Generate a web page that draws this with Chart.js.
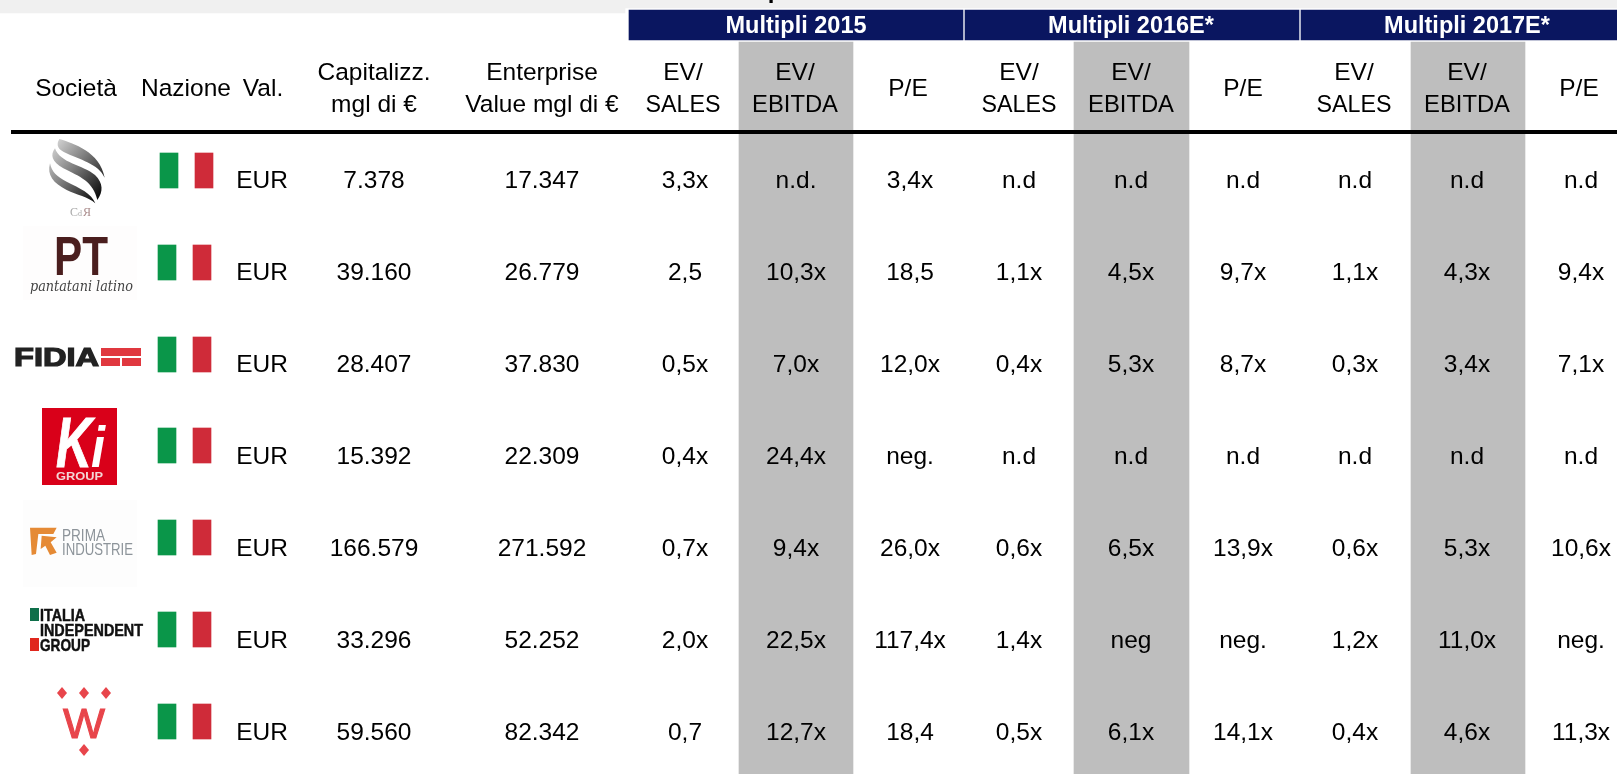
<!DOCTYPE html>
<html>
<head>
<meta charset="utf-8">
<title>Multipli</title>
<script src="https://cdn.jsdelivr.net/npm/chart.js@4/dist/chart.umd.min.js"></script>
<style>
  html, body { margin: 0; padding: 0; background: #fff; overflow: hidden; }
  canvas { display: block; }
</style>
</head>
<body>
<canvas id="table-chart" width="1617" height="774"></canvas>
<script>
// table content
const societa = ['Cd R', 'Pantaloni Torino', 'Fidia', 'Ki Group', 'Prima Industrie', 'Italia Independent Group', 'W'];
const valuta = ['EUR', 'EUR', 'EUR', 'EUR', 'EUR', 'EUR', 'EUR'];
const capitalizz = ['7.378', '39.160', '28.407', '15.392', '166.579', '33.296', '59.560'];
const enterprise = ['17.347', '26.779', '37.830', '22.309', '271.592', '52.252', '82.342'];
const evSales15 = ['3,3x', '2,5', '0,5x', '0,4x', '0,7x', '2,0x', '0,7'];
const evEbitda15 = ['n.d.', '10,3x', '7,0x', '24,4x', '9,4x', '22,5x', '12,7x'];
const pe15 = ['3,4x', '18,5', '12,0x', 'neg.', '26,0x', '117,4x', '18,4'];
const evSales16 = ['n.d', '1,1x', '0,4x', 'n.d', '0,6x', '1,4x', '0,5x'];
const evEbitda16 = ['n.d', '4,5x', '5,3x', 'n.d', '6,5x', 'neg', '6,1x'];
const pe16 = ['n.d', '9,7x', '8,7x', 'n.d', '13,9x', 'neg.', '14,1x'];
const evSales17 = ['n.d', '1,1x', '0,3x', 'n.d', '0,6x', '1,2x', '0,4x'];
const evEbitda17 = ['n.d', '4,3x', '3,4x', 'n.d', '5,3x', '11,0x', '4,6x'];
const pe17 = ['n.d', '9,4x', '7,1x', 'n.d', '10,6x', 'neg.', '11,3x'];
const groupLabels = ['Multipli 2015', 'Multipli 2016E*', 'Multipli 2017E*'];
const headerLabels = [
  ['Società'], ['Nazione'], ['Val.'], ['Capitalizz.', 'mgl di €'], ['Enterprise', 'Value mgl di €'],
  ['EV/', 'SALES'], ['EV/', 'EBITDA'], ['P/E'],
  ['EV/', 'SALES'], ['EV/', 'EBITDA'], ['P/E'],
  ['EV/', 'SALES'], ['EV/', 'EBITDA'], ['P/E']
];

// layout, in scale units (the scales run over the page size)
const bodyColumns = [valuta, capitalizz, enterprise, evSales15, evEbitda15, pe15, evSales16, evEbitda16, pe16, evSales17, evEbitda17, pe17];
const bodyX = [262, 374, 542, 685, 796, 910, 1019, 1131, 1243, 1355, 1467, 1581];
const headerX = [76, 186, 263, 374, 542, 683, 795, 908, 1019, 1131, 1243, 1354, 1467, 1579];
const rowY = [181, 273, 365, 457, 549, 641, 733];
const flagTop = [153, 245, 337, 428, 520, 612, 704];
const flagShift = [2, 0, 0, 0, 0, 0, 0];
const groupSpans = [[629, 963], [965, 1299], [1301, 1617]];
const groupX = [796, 1131, 1467];
const shadedSpans = [[739, 853], [1074, 1189], [1411, 1525]];

const FONT = '"Liberation Sans", Arial, sans-serif';

function block(from, to, top, bottom, color, order) {
  return {
    type: 'bar',
    data: [{ x: (from + to) / 2, y: [top, bottom] }],
    backgroundColor: color,
    barThickness: to - from,
    grouped: false,
    borderWidth: 0,
    order: order
  };
}

const datasets = [
  block(0, 625, 0, 13, '#f0f0f0', 5),
  block(625, 1617, 0, 8, '#f0f0f0', 5)
];
groupSpans.forEach(s => datasets.push(block(s[0], s[1], 10, 40, '#0a1660', 4)));
shadedSpans.forEach(s => datasets.push(block(s[0], s[1], 42, 774, '#bebebe', 3)));
flagTop.forEach((top, i) => {
  datasets.push(block(158 + flagShift[i], 176 + flagShift[i], top, top + 35, '#0a9649', 2));
  datasets.push(block(193 + flagShift[i], 211 + flagShift[i], top, top + 35, '#cf2b39', 2));
});
// thick rule under the header
datasets.push({
  type: 'line',
  data: [{ x: 11, y: 132 }, { x: 1617, y: 132 }],
  borderColor: '#000',
  borderWidth: 4,
  pointRadius: 0,
  order: 1
});

// draws text squeezed or stretched to a given width, stroke thickens it
function fitText(ctx, text, left, baseline, width, font, color, stroke) {
  ctx.save();
  ctx.font = font;
  ctx.fillStyle = color;
  ctx.strokeStyle = color;
  ctx.textAlign = 'left';
  ctx.textBaseline = 'alphabetic';
  let w = ctx.measureText(text).width;
  ctx.translate(left, baseline);
  ctx.scale(width / w, 1);
  ctx.fillText(text, 0, 0);
  if (stroke) {
    ctx.lineWidth = stroke;
    ctx.strokeText(text, 0, 0);
  }
  ctx.restore();
}

function rect(ctx, x0, y0, x1, y1, color) {
  ctx.fillStyle = color;
  ctx.fillRect(x0, y0, x1 - x0, y1 - y0);
}

function diamond(ctx, cx, cy) {
  ctx.beginPath();
  ctx.moveTo(cx, cy - 6);
  ctx.lineTo(cx + 5, cy);
  ctx.lineTo(cx, cy + 6);
  ctx.lineTo(cx - 5, cy);
  ctx.closePath();
  ctx.fill();
}

// company logos, rough redraws
function drawLogos(ctx) {
  // swirl
  ctx.save();
  ctx.translate(20, 135);
  ctx.scale(1 / 3, 1 / 3);
  let g = ctx.createLinearGradient(90, 30, 250, 170);
  g.addColorStop(0, '#d8d8d8');
  g.addColorStop(0.45, '#808080');
  g.addColorStop(1, '#0c0c0c');
  ctx.fillStyle = g;
  ctx.beginPath();
  ctx.moveTo(118, 12);
  ctx.bezierCurveTo(160, 25, 240, 50, 254, 128);
  ctx.bezierCurveTo(235, 85, 180, 75, 130, 50);
  ctx.bezierCurveTo(110, 40, 110, 25, 118, 12);
  ctx.fill();
  ctx.beginPath();
  ctx.moveTo(105, 40);
  ctx.bezierCurveTo(90, 60, 95, 80, 130, 100);
  ctx.bezierCurveTo(180, 125, 220, 140, 232, 195);
  ctx.bezierCurveTo(250, 170, 250, 145, 225, 120);
  ctx.bezierCurveTo(190, 90, 120, 85, 105, 40);
  ctx.fill();
  ctx.beginPath();
  ctx.moveTo(90, 85);
  ctx.bezierCurveTo(80, 120, 100, 145, 140, 165);
  ctx.bezierCurveTo(170, 180, 205, 185, 226, 205);
  ctx.bezierCurveTo(215, 175, 180, 160, 140, 140);
  ctx.bezierCurveTo(110, 125, 95, 110, 90, 85);
  ctx.fill();
  ctx.restore();
  fitText(ctx, 'C', 70, 216, 8, '13px "Liberation Serif"', '#a9a9a9');
  fitText(ctx, 'd', 78, 216, 4, '9px "Liberation Serif"', '#a9a9a9');
  fitText(ctx, 'Я', 83, 216, 8, '13px "Liberation Serif"', '#a98a8a');

  // PT
  rect(ctx, 23, 226, 137, 300, '#fefdfd');
  fitText(ctx, 'PT', 54, 275, 54, 'bold 55px ' + FONT, '#4a1e1e');
  fitText(ctx, 'pantatani latino', 30, 291, 103, 'italic 14px "DejaVu Serif"', '#444');

  // FIDIA
  fitText(ctx, 'FIDIA', 14, 366, 85, '900 25px ' + FONT, '#222', 1.2);
  rect(ctx, 101, 348, 141, 356, '#e0383f');
  rect(ctx, 101, 358, 120, 366, '#e0383f');
  rect(ctx, 122, 358, 141, 366, '#e0383f');

  // Ki
  rect(ctx, 42, 408, 117, 485, '#d90019');
  fitText(ctx, 'K', 56, 467, 36, 'italic bold 70px ' + FONT, '#fff', 1);
  fitText(ctx, 'i', 91, 467, 14, 'italic bold 58px ' + FONT, '#fff');
  fitText(ctx, 'GROUP', 56, 480, 47, 'bold 11px ' + FONT, '#f3d6d6');

  // Prima Industrie
  rect(ctx, 23, 500, 137, 587, '#fdfdfd');
  ctx.save();
  ctx.translate(0, 300);
  ctx.scale(1 / 3, 1 / 3);
  ctx.fillStyle = '#e58a35';
  ctx.beginPath();
  ctx.moveTo(90, 683);
  ctx.lineTo(170, 683);
  ctx.lineTo(160, 702);
  ctx.lineTo(115, 702);
  ctx.lineTo(108, 762);
  ctx.lineTo(95, 765);
  ctx.closePath();
  ctx.fill();
  ctx.beginPath();
  ctx.moveTo(125, 707);
  ctx.lineTo(170, 712);
  ctx.lineTo(152, 727);
  ctx.lineTo(170, 758);
  ctx.lineTo(150, 765);
  ctx.lineTo(136, 737);
  ctx.lineTo(122, 747);
  ctx.closePath();
  ctx.fill();
  ctx.restore();
  fitText(ctx, 'PRIMA', 62, 541, 43, '17px ' + FONT, '#8d949a');
  fitText(ctx, 'INDUSTRIE', 62, 555, 71, '17px ' + FONT, '#8d949a');

  // Italia Independent
  rect(ctx, 30, 608, 39, 621, '#0f6f4a');
  rect(ctx, 30, 638, 39, 651, '#e0271d');
  fitText(ctx, 'ITALIA', 40, 621, 45, 'bold 17px ' + FONT, '#111', 0.5);
  fitText(ctx, 'INDEPENDENT', 40, 636, 103, 'bold 17px ' + FONT, '#111', 0.5);
  fitText(ctx, 'GROUP', 40, 651, 50, 'bold 17px ' + FONT, '#111', 0.5);

  // W
  ctx.fillStyle = '#e8454b';
  diamond(ctx, 62, 693);
  diamond(ctx, 84, 693);
  diamond(ctx, 106, 693);
  diamond(ctx, 84, 750);
  fitText(ctx, 'W', 63, 738, 42, '42px ' + FONT, '#e8454b', 1);
}

const tableText = {
  id: 'tableText',
  afterDatasetsDraw(chart) {
    const ctx = chart.ctx;
    const x = chart.scales.x;
    const y = chart.scales.y;
    ctx.save();
    ctx.textAlign = 'center';
    ctx.textBaseline = 'middle';

    // cut-off title at the top edge
    ctx.fillStyle = '#000';
    ctx.font = 'bold 24px ' + FONT;
    ctx.textBaseline = 'alphabetic';
    ctx.fillText('p', x.getPixelForValue(775), y.getPixelForValue(-2));
    ctx.textBaseline = 'middle';

    ctx.fillStyle = '#fff';
    ctx.font = 'bold 23.5px ' + FONT;
    groupLabels.forEach((label, i) => {
      ctx.fillText(label, x.getPixelForValue(groupX[i]), y.getPixelForValue(27));
    });

    ctx.fillStyle = '#000';
    ctx.font = '24.5px ' + FONT;
    headerLabels.forEach((lines, i) => {
      if (lines.length == 1) {
        ctx.fillText(lines[0], x.getPixelForValue(headerX[i]), y.getPixelForValue(89));
      } else {
        ctx.fillText(lines[0], x.getPixelForValue(headerX[i]), y.getPixelForValue(73));
        // SALES and EBITDA sit a bit narrower in the reference
        ctx.fillText(lines[1], x.getPixelForValue(headerX[i]), y.getPixelForValue(105), lines[1] == 'SALES' ? 75 : (lines[1] == 'EBITDA' ? 86 : 200));
      }
    });

    bodyColumns.forEach((col, c) => {
      col.forEach((text, r) => {
        ctx.fillText(text, x.getPixelForValue(bodyX[c]), y.getPixelForValue(rowY[r]));
      });
    });
    drawLogos(ctx);
    ctx.restore();
  }
};

let ctx = document.getElementById('table-chart').getContext('2d');
let tableChart = new Chart(ctx, {
  type: 'bar',
  data: { datasets: datasets },
  options: {
    responsive: false,
    animation: false,
    layout: { padding: 0 },
    plugins: { legend: { display: false }, tooltip: { enabled: false }, title: { display: false } },
    scales: {
      x: { type: 'linear', min: 0, max: 1617, offset: false, display: false },
      y: { type: 'linear', min: 0, max: 774, reverse: true, beginAtZero: false, display: false }
    }
  },
  plugins: [tableText]
});
</script>
</body>
</html>
